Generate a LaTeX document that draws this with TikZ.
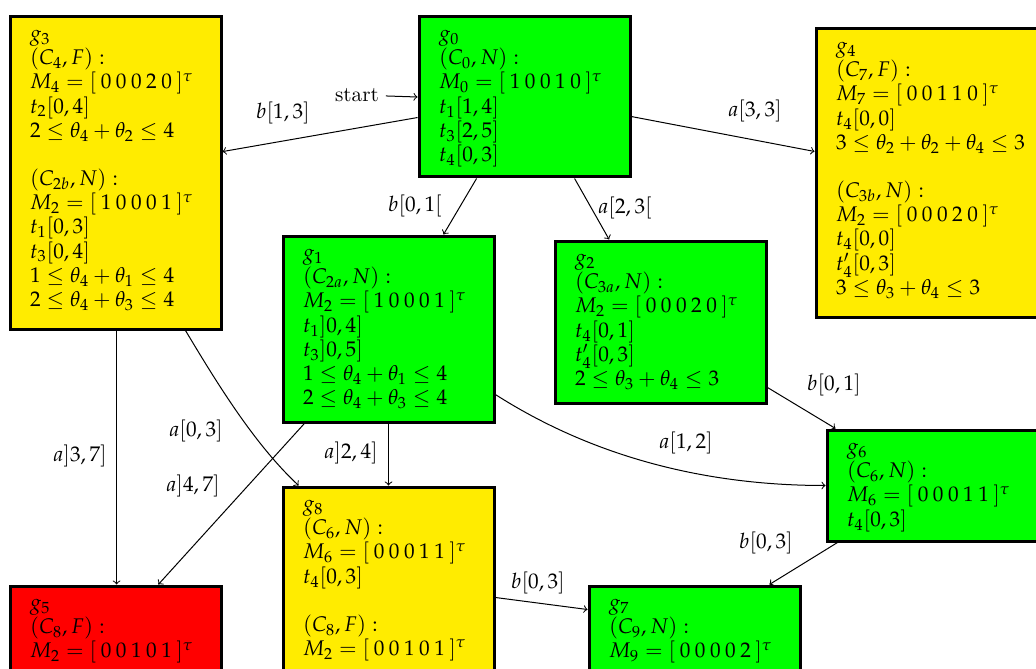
\documentclass[tikz,border=0pt]{standalone}
\usepackage{mathpazo}
\usetikzlibrary{calc}
\definecolor{cyel}{RGB}{255,236,0}
\definecolor{cgrn}{RGB}{0,255,0}
\definecolor{cred}{RGB}{255,0,0}
\newcommand\mysize{\fontsize{10.6pt}{12.1pt}\selectfont\relpenalty=10000 \binoppenalty=10000 }
\newcommand\dg{\kern2.25pt}
\begin{document}
\begin{tikzpicture}[x=0.5pt,y=-0.5pt,
  every node/.style={font=\mysize},
  box/.style={draw, line width=1.5pt, text width=85.5pt, align=left,
    inner xsep=10pt, inner ysep=4pt, anchor=north west, text height=7.75pt},
  lbl/.style={inner sep=1pt},
  edge/.style={->, line width=0.5pt}]
\useasboundingbox (0,0) rectangle (1036,668);

% states
\node[box, fill=cyel, text depth=140.25pt] (g3) at (8.5,15.5)
 {$g_3$\\ $(C_4,F):$\\ $M_4=[\dg0\dg0\dg0\dg2\dg0\dg]^{\tau}$\\ $t_2[0,4]$\\ $2\leq\theta_4+\theta_2\leq4$\\[12pt]
  $(C_{2b},N):$\\ $M_2=[\dg1\dg0\dg0\dg0\dg1\dg]^{\tau}$\\ $t_1[0,3]$\\ $t_3[0,4]$\\ $1\leq\theta_4+\theta_1\leq4$\\ $2\leq\theta_4+\theta_3\leq4$};
\node[box, fill=cgrn, text depth=64.25pt] (g0) at (417.5,15.5)
 {$g_0$\\ $(C_0,N):$\\ $M_0=[\dg1\dg0\dg0\dg1\dg0\dg]^{\tau}$\\ $t_1[1,4]$\\ $t_3[2,5]$\\ $t_4[0,3]$};
\node[box, fill=cyel, text width=100pt, text depth=128.25pt] (g4) at (814.5,27.5)
 {$g_4$\\ $(C_7,F):$\\ $M_7=[\dg0\dg0\dg1\dg1\dg0\dg]^{\tau}$\\ $t_4[0,0]$\\ $3\leq\theta_2+\theta_2+\theta_4\leq3$\\[12pt]
  $(C_{3b},N):$\\ $M_2=[\dg0\dg0\dg0\dg2\dg0\dg]^{\tau}$\\ $t_4[0,0]$\\ $t'_4[0,3]$\\ $3\leq\theta_3+\theta_4\leq3$};
\node[box, fill=cgrn, text depth=77.25pt] (g1) at (281.5,234.5)
 {$g_1$\\ $(C_{2a},N):$\\ $M_2=[\dg1\dg0\dg0\dg0\dg1\dg]^{\tau}$\\ $t_1]0,4]$\\ $t_3]0,5]$\\ $1\leq\theta_4+\theta_1\leq4$\\ $2\leq\theta_4+\theta_3\leq4$};
\node[box, fill=cgrn, text depth=65.25pt] (g2) at (553.5,239.5)
 {$g_2$\\ $(C_{3a},N):$\\ $M_2=[\dg0\dg0\dg0\dg2\dg0\dg]^{\tau}$\\ $t_4[0,1]$\\ $t'_4[0,3]$\\ $2\leq\theta_3+\theta_4\leq3$};
\node[box, fill=cgrn, text width=88pt, text depth=39.75pt] (g6) at (825.5,428.5)
 {$g_6$\\ $(C_6,N):$\\ $M_6=[\dg0\dg0\dg0\dg1\dg1\dg]^{\tau}$\\ $t_4[0,3]$};
\node[box, fill=cred, text depth=60pt] (g5) at (8.5,584.5)
 {$g_5$\\ $(C_8,F):$\\ $M_2=[\dg0\dg0\dg1\dg0\dg1\dg]^{\tau}$};
\node[box, fill=cyel, text depth=110pt] (g8) at (281.5,485.5)
 {$g_8$\\ $(C_6,N):$\\ $M_6=[\dg0\dg0\dg0\dg1\dg1\dg]^{\tau}$\\ $t_4[0,3]$\\[12pt]
  $(C_8,F):$\\ $M_2=[\dg0\dg0\dg1\dg0\dg1\dg]^{\tau}$};
\node[box, fill=cgrn, text depth=60pt] (g7) at (587.5,584.5)
 {$g_7$\\ $(C_9,N):$\\ $M_9=[\dg0\dg0\dg0\dg0\dg2\dg]^{\tau}$};

% start
\node (start) at (357,95) {start};
\draw[edge] (start) -- (g0.west);

% transitions
\draw[edge] ($(g0.north west)!0.626!(g0.south west)$) -- ($(g3.north east)!0.432!(g3.south east)$);
\node[lbl] (l03) at (283,113) {$b[1,3]$};

\draw[edge] ($(g0.north east)!0.62!(g0.south east)$) -- ($(g4.north west)!0.426!(g4.south west)$);
\node[lbl] (l04) at (755,111) {$a[3,3]$};

\draw[edge] ($(g0.south west)!0.276!(g0.south east)$) -- ($(g1.north west)!0.757!(g1.north east)$);
\node[lbl] (l01) at (415,206) {$b[0,1[$};

\draw[edge] ($(g0.south west)!0.734!(g0.south east)$) -- ($(g2.north west)!0.26!(g2.north east)$);
\node[lbl] (l02) at (625,208) {$a[2,3[$};

\draw[edge] ($(g3.south west)!0.505!(g3.south east)$) -- ($(g5.north west)!0.505!(g5.north east)$);
\node[lbl] (l35) at (80,456) {$a]3,7]$};

\coordinate (c38a) at ($(g3.south west)!0.827!(g3.south east)$);
\coordinate (c38b) at ($(g8.north west)!0.08!(g8.north east)$);
\draw[edge] (c38a) .. controls ($(c38a)+(30,50)$) and ($(c38b)+(-45,-42)$) .. (c38b);
\node[lbl] (l38) at (196,431) {$a[0,3]$};

\draw[edge] ($(g1.south west)!0.107!(g1.south east)$) -- ($(g5.north west)!0.70!(g5.north east)$);
\node[lbl] (l15) at (193,486) {$a]4,7]$};

\draw[edge] (g1.south) -- (g8.north);
\node[lbl] (l18) at (351,453) {$a]2,4]$};

\coordinate (c16a) at ($(g1.north east)!0.847!(g1.south east)$);
\draw[edge] (c16a) .. controls ($(c16a)+(105,67)$) and ($(g6.west)+(-110,0)$) .. (g6.west);
\node[lbl] (l16) at (686,443) {$a[1,2]$};

\draw[edge] ($(g2.north east)!0.897!(g2.south east)$) -- ([xshift=5pt]g6.north west);
\node[lbl] (l26) at (834,385) {$b[0,1]$};

\draw[edge] ([xshift=6pt]g6.south west) -- ($(g7.north west)!0.85!(g7.north east)$);
\node[lbl] (l67) at (766,543) {$b[0,3]$};

\draw[edge] ([yshift=-56pt]g8.north east) -- ([yshift=-12.5pt]g7.north west);
\node[lbl] (l87) at (538,583) {$b[0,3]$};
\end{tikzpicture}
\end{document}
